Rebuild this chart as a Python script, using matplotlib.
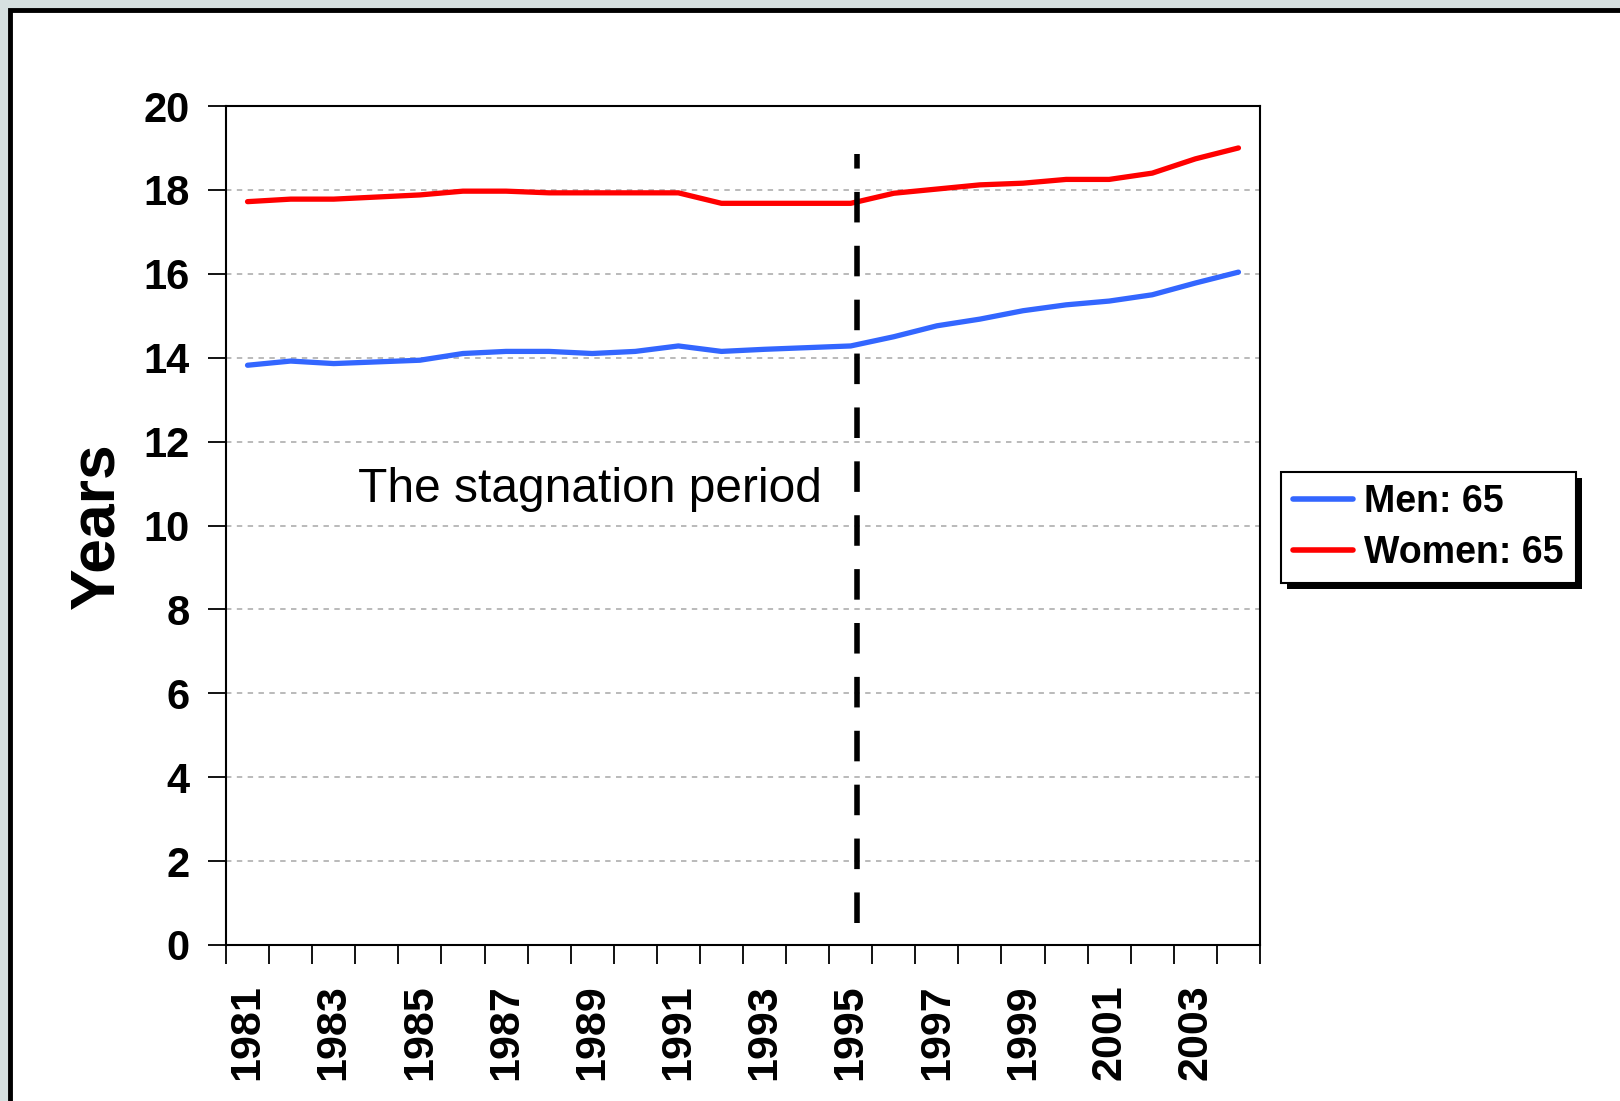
import matplotlib
matplotlib.use("Agg")
import matplotlib.pyplot as plt
from matplotlib.patches import Rectangle
import numpy as np

plt.rcParams["font.family"] = ["Liberation Sans", "DejaVu Sans"]

years = list(range(1981, 2005))
men = [13.82, 13.92, 13.86, 13.90, 13.94, 14.10, 14.15, 14.15, 14.10, 14.15, 14.28,
       14.15, 14.20, 14.24, 14.28, 14.50, 14.76, 14.92, 15.12, 15.26, 15.35, 15.50,
       15.78, 16.04]
women = [17.72, 17.78, 17.78, 17.83, 17.88, 17.97, 17.97, 17.93, 17.93, 17.93, 17.93,
         17.68, 17.68, 17.68, 17.68, 17.92, 18.02, 18.12, 18.16, 18.25, 18.25, 18.40,
         18.74, 19.00]
label_years = [1981, 1983, 1985, 1987, 1989, 1991, 1993, 1995, 1997, 1999, 2001, 2003]
yticks = list(range(0, 21, 2))

W, H = 1620, 1101
fig = plt.figure(figsize=(W / 100, H / 100), dpi=100)
fig.patch.set_facecolor("#d6e0e0")

# white panel with black border
fig.patches.append(Rectangle((10 / W, -0.1), 1.2, 1 - 10 / H + 0.1, transform=fig.transFigure,
                             facecolor="white", edgecolor="black", linewidth=3.5, zorder=-10))

ax = fig.add_axes([226 / W, 1 - 945 / H, (1260 - 226) / W, (945 - 106) / H])
ax.set_facecolor("white")

x = np.arange(len(years)) + 0.5
ax.plot(x, men, color="#3366ff", lw=3.8, solid_capstyle="round", label="Men: 65", zorder=3)
ax.plot(x, women, color="#ff0000", lw=3.8, solid_capstyle="round", label="Women: 65", zorder=3)

ax.plot([14.65, 14.65], [0.52, 18.86], color="black", lw=4, dashes=(5.5, 4.2), zorder=4)

ax.text(3.06, 10.55, "The stagnation period", fontsize=34.5, color="black",
        ha="left", va="baseline")

ax.set_xlim(0, 24)
ax.set_ylim(0, 20)
ax.set_yticks(yticks)
ax.set_yticklabels([str(v) for v in yticks], fontsize=30, fontweight="bold")
for v in yticks[1:-1]:
    ax.axhline(v, color="#b4b4b4", lw=1.3, dashes=(3, 3), zorder=1)

ax.set_xticks(np.arange(0, 25))
ax.set_xticklabels([])
ax.set_xticks([years.index(y) + 0.5 for y in label_years], minor=True)
ax.set_xticklabels([str(y) for y in label_years], minor=True, rotation=90,
                   fontsize=31, fontweight="bold")
ax.tick_params(axis="x", which="major", direction="out", length=14, width=1.3)
ax.tick_params(axis="x", which="minor", length=0, pad=28)
ax.tick_params(axis="y", direction="out", length=13, width=1.3, pad=13)

for s in ax.spines.values():
    s.set_linewidth(1.5)
    s.set_color("black")

ax.set_ylabel("Years", fontsize=45, fontweight="bold", labelpad=12)

leg = ax.legend(loc="upper left", bbox_to_anchor=(1281 / W, 1 - 472 / H),
                bbox_transform=fig.transFigure, borderaxespad=0, fancybox=False,
                frameon=True, edgecolor="black", facecolor="white", framealpha=1,
                handlelength=1.6, handletextpad=0.3,
                borderpad=0.32, labelspacing=0.4,
                prop={"weight": "bold", "size": 27})
leg.get_frame().set_linewidth(1.5)
for l in leg.get_lines():
    l.set_linewidth(4)

# hard black drop shadow behind the legend box
fig.canvas.draw()
bb = leg.get_window_extent()
fig.patches.append(Rectangle((bb.x0 + 6, bb.y0 - 6), bb.width, bb.height, transform=None,
                             facecolor="black", edgecolor="none", zorder=-1))

fig.savefig("out.png", dpi=100, facecolor=fig.get_facecolor())
